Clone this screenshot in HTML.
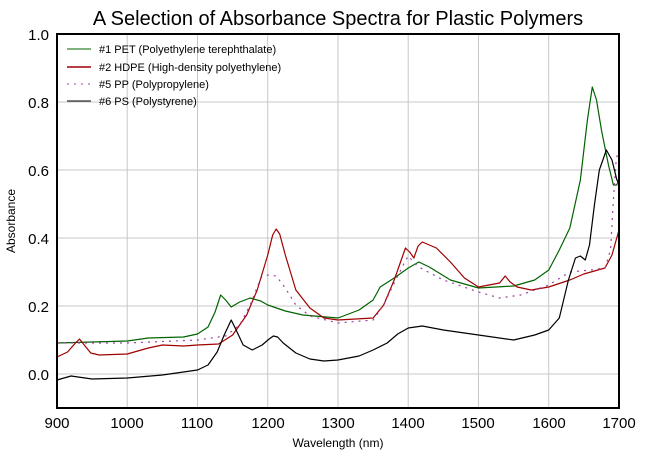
<!DOCTYPE html>
<html><head><meta charset="utf-8"><style>body{margin:0;background:#fff}svg{display:block}</style></head><body>
<svg width="650" height="461" xmlns="http://www.w3.org/2000/svg" font-family="Liberation Sans, sans-serif">
<rect width="650" height="461" fill="#fff"/>
<text x="338" y="25" font-size="20" text-anchor="middle">A Selection of Absorbance Spectra for Plastic Polymers</text>
<g stroke="#c8c8c8" stroke-width="1">
<line x1="127.2" y1="34" x2="127.2" y2="408"/><line x1="197.5" y1="34" x2="197.5" y2="408"/><line x1="267.7" y1="34" x2="267.7" y2="408"/><line x1="338" y1="34" x2="338" y2="408"/><line x1="408.2" y1="34" x2="408.2" y2="408"/><line x1="478.5" y1="34" x2="478.5" y2="408"/><line x1="548.7" y1="34" x2="548.7" y2="408"/>
<line x1="57" y1="102" x2="619" y2="102"/><line x1="57" y1="170" x2="619" y2="170"/><line x1="57" y1="238" x2="619" y2="238"/><line x1="57" y1="306" x2="619" y2="306"/><line x1="57" y1="374" x2="619" y2="374"/>
</g>
<g font-size="15" text-anchor="end">
<text x="49" y="40">1.0</text><text x="49" y="108">0.8</text><text x="49" y="176">0.6</text><text x="49" y="244">0.4</text><text x="49" y="312">0.2</text><text x="49" y="380">0.0</text>
</g>
<g font-size="15" text-anchor="middle">
<text x="57" y="428">900</text><text x="127" y="428">1000</text><text x="197" y="428">1100</text><text x="268" y="428">1200</text><text x="338" y="428">1300</text><text x="408" y="428">1400</text><text x="478" y="428">1500</text><text x="549" y="428">1600</text><text x="619" y="428">1700</text>
</g>
<text x="338" y="447" font-size="12" text-anchor="middle">Wavelength (nm)</text>
<text transform="translate(15,221) rotate(-90)" font-size="12" text-anchor="middle">Absorbance</text>
<g transform="translate(-575.25,0) scale(0.7025,1)" fill="none" stroke-width="1.2" stroke-linejoin="round">
<polyline vector-effect="non-scaling-stroke" stroke="#006400" points="900,343 950,342 1000,341 1030,338 1080,337 1100,334 1115,327 1125,312 1133,295 1140,300 1148,307 1160,302 1175,298 1190,301 1200,305 1225,311 1250,315 1300,318 1330,310 1350,300 1360,287 1380,278 1400,268 1415,262 1430,267 1460,280 1500,288 1550,286 1580,280 1600,270 1615,250 1630,228 1645,180 1655,120 1662,87 1668,100 1675,130 1685,165 1692,185 1697,185 1700,178"/>
<polyline vector-effect="non-scaling-stroke" stroke="#a00000" points="900,357 915,352 925,344 932,339 940,346 948,353 960,355 1000,354 1030,348 1050,345 1080,346 1100,345 1130,344 1150,335 1170,315 1185,290 1200,255 1207,235 1212,229 1217,234 1225,255 1240,290 1260,308 1280,318 1300,320 1350,318 1365,305 1380,280 1390,260 1396,248 1402,252 1408,258 1414,246 1420,242 1440,248 1460,262 1480,278 1500,287 1530,283 1538,276 1545,282 1555,287 1575,290 1600,287 1630,280 1650,274 1670,270 1680,268 1690,255 1700,230"/>
<polyline vector-effect="non-scaling-stroke" stroke="#a040a0" stroke-dasharray="2,5" points="900,343 1000,343 1100,340 1140,336 1160,325 1175,305 1190,278 1200,275 1212,276 1225,288 1240,305 1260,316 1300,323 1350,320 1365,305 1380,283 1395,262 1400,256 1410,264 1420,269 1450,280 1500,292 1530,298 1560,295 1600,285 1630,272 1660,270 1680,268 1688,250 1692,200 1696,160 1700,148"/>
<polyline vector-effect="non-scaling-stroke" stroke="#000" points="900,380 920,376 950,379 1000,378 1050,375 1100,370 1115,365 1128,352 1138,335 1148,320 1155,330 1165,345 1178,350 1192,345 1202,339 1208,336 1214,337 1222,343 1240,353 1260,359 1280,361 1300,360 1330,356 1350,350 1370,343 1385,334 1400,328 1420,326 1450,330 1500,335 1550,340 1580,335 1600,330 1615,318 1628,280 1638,258 1645,256 1652,260 1658,245 1665,205 1672,170 1682,150 1690,160 1697,180 1700,183"/>
</g>
<rect x="57" y="34" width="562" height="374" fill="none" stroke="#000" stroke-width="2"/>
<g font-size="11">
<line x1="67" y1="49" x2="91" y2="49" stroke="#006400"/><text x="99" y="53">#1 PET (Polyethylene terephthalate)</text>
<line x1="67" y1="67" x2="91" y2="67" stroke="#a00000" stroke-width="1.5"/><text x="99" y="71">#2 HDPE (High-density polyethylene)</text>
<line x1="67" y1="84" x2="91" y2="84" stroke="#a040a0" stroke-dasharray="2,5"/><text x="99" y="88">#5 PP (Polypropylene)</text>
<line x1="67" y1="101" x2="91" y2="101" stroke="#000"/><text x="99" y="105">#6 PS (Polystyrene)</text>
</g>
</svg>
</body></html>
